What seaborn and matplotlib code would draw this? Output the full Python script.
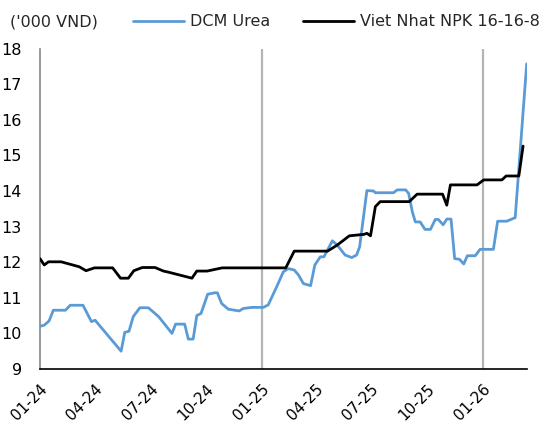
import matplotlib
matplotlib.use("Agg")
import matplotlib.pyplot as plt
import matplotlib.dates as mdates
import pandas as pd
import seaborn as sns

# ---- data ----
series_names = ["DCM Urea", "Viet Nhat NPK 16-16-8"]
unit_label = "('000 VND)"

urea_dates = [
    "2024-01-01", "2024-01-08", "2024-01-16", "2024-01-23", "2024-02-12", "2024-02-20",
    "2024-03-12", "2024-03-26", "2024-04-01", "2024-05-14", "2024-05-20", "2024-05-27",
    "2024-06-03", "2024-06-14", "2024-06-28", "2024-07-15", "2024-08-06", "2024-08-12",
    "2024-08-27", "2024-09-02", "2024-09-10", "2024-09-16", "2024-09-23", "2024-10-04",
    "2024-10-16", "2024-10-20", "2024-10-27", "2024-11-07", "2024-11-25", "2024-12-02",
    "2024-12-16", "2025-01-04", "2025-01-12", "2025-01-26", "2025-02-06", "2025-02-14",
    "2025-02-24", "2025-03-03", "2025-03-11", "2025-03-23", "2025-03-30", "2025-04-08",
    "2025-04-14", "2025-04-28", "2025-05-06", "2025-05-19", "2025-05-30", "2025-06-07",
    "2025-06-12", "2025-06-24", "2025-07-05", "2025-07-08", "2025-08-07", "2025-08-13",
    "2025-08-27", "2025-09-01", "2025-09-07", "2025-09-12", "2025-09-20", "2025-09-28",
    "2025-10-07", "2025-10-15", "2025-10-20", "2025-10-28", "2025-11-03", "2025-11-10",
    "2025-11-16", "2025-11-24", "2025-12-01", "2025-12-07", "2025-12-20", "2025-12-28",
    "2026-01-19", "2026-01-26", "2026-02-10", "2026-02-24", "2026-03-15",
]
urea_values = [
    10.20, 10.23, 10.35, 10.65, 10.65, 10.79,
    10.79, 10.33, 10.37, 9.50, 10.03, 10.06,
    10.47, 10.72, 10.72, 10.47, 10.00, 10.26,
    10.26, 9.84, 9.84, 10.50, 10.56, 11.10,
    11.14, 11.14, 10.84, 10.68, 10.63, 10.70,
    10.73, 10.73, 10.80, 11.31, 11.73, 11.82,
    11.78, 11.64, 11.40, 11.34, 11.92, 12.15,
    12.15, 12.60, 12.48, 12.20, 12.13, 12.20,
    12.43, 14.01, 14.00, 13.95, 13.95, 14.03,
    14.03, 13.93, 13.42, 13.13, 13.13, 12.92,
    12.92, 13.20, 13.20, 13.05, 13.21, 13.21,
    12.10, 12.08, 11.95, 12.18, 12.18, 12.36,
    12.36, 13.15, 13.15, 13.25, 17.57,
]

npk_dates = [
    "2024-01-01", "2024-01-08", "2024-01-15", "2024-02-05", "2024-03-06", "2024-03-17",
    "2024-03-31", "2024-04-30", "2024-05-13", "2024-05-26", "2024-06-04", "2024-06-18",
    "2024-07-09", "2024-07-23", "2024-07-31", "2024-09-08", "2024-09-16", "2024-10-03",
    "2024-10-28", "2025-02-10", "2025-02-24", "2025-04-20", "2025-05-06", "2025-05-26",
    "2025-06-19", "2025-06-24", "2025-06-30", "2025-07-08", "2025-07-16", "2025-09-02",
    "2025-09-15", "2025-10-27", "2025-11-03", "2025-11-09", "2025-12-23", "2026-01-03",
    "2026-02-02", "2026-02-09", "2026-03-02", "2026-03-09",
]
npk_values = [
    12.10, 11.92, 12.01, 12.01, 11.87, 11.76,
    11.84, 11.84, 11.55, 11.55, 11.76, 11.85,
    11.85, 11.75, 11.72, 11.55, 11.75, 11.75,
    11.84, 11.84, 12.31, 12.31, 12.48, 12.74,
    12.78, 12.81, 12.74, 13.56, 13.70, 13.70,
    13.91, 13.91, 13.60, 14.17, 14.17, 14.31,
    14.31, 14.42, 14.42, 15.26,
]

tick_dates = ["2024-01-01", "2024-04-01", "2024-07-01", "2024-10-01", "2025-01-01",
              "2025-04-01", "2025-07-01", "2025-10-01", "2026-01-01"]
divider_dates = ["2025-01-01", "2026-01-01"]
y_ticks = [9, 10, 11, 12, 13, 14, 15, 16, 17, 18]

# ---- styling ----
sns.set_style("white")
plt.rcParams["font.family"] = ["DejaVu Sans"]
FS = 11.5

urea = pd.DataFrame({"date": pd.to_datetime(urea_dates), "price": urea_values})
npk = pd.DataFrame({"date": pd.to_datetime(npk_dates), "price": npk_values})

fig = plt.figure(figsize=(5.5, 4.3), dpi=100)
ax = fig.add_axes([40 / 550, 1 - 369 / 430, (526.7 - 40) / 550, (369 - 48.5) / 430])

for d in divider_dates:
    ax.axvline(pd.Timestamp(d), color="#b4b4b4", lw=1.6, zorder=1)

sns.lineplot(data=urea, x="date", y="price", ax=ax, color="#5b9bd5", lw=2.0,
             label=series_names[0], zorder=3)
sns.lineplot(data=npk, x="date", y="price", ax=ax, color="black", lw=2.0,
             label=series_names[1], zorder=4)

ax.set_xlim(pd.Timestamp("2024-01-01"), pd.Timestamp("2026-03-15"))
ax.set_ylim(9, 18)
ax.set_yticks(y_ticks)
ax.set_xticks(pd.to_datetime(tick_dates))
ax.xaxis.set_major_formatter(mdates.DateFormatter("%m-%y"))
ax.set_xlabel("")
ax.set_ylabel("")

for s in ["top", "right"]:
    ax.spines[s].set_visible(False)
ax.spines["left"].set_color("#868686")
ax.spines["left"].set_linewidth(1.2)
ax.spines["bottom"].set_color("black")
ax.spines["bottom"].set_linewidth(1.2)

ax.tick_params(axis="y", direction="in", length=5, width=1, color="#868686",
               pad=13, labelsize=FS, labelcolor="black")
ax.tick_params(axis="x", direction="in", length=5, width=1, color="#868686",
               pad=9, labelsize=11, labelcolor="black")
for lab in ax.get_xticklabels():
    lab.set_rotation(45)
    lab.set_ha("right")
    lab.set_va("top")
    lab.set_rotation_mode("anchor")

handles, labels = ax.get_legend_handles_labels()
ax.get_legend().remove()
fig.legend(handles, labels, loc="center left", bbox_to_anchor=(133 / 550, 1 - 22 / 430),
           ncol=2, frameon=False, fontsize=FS, handlelength=3.2, handletextpad=0.4,
           columnspacing=2.0, borderpad=0, borderaxespad=0)
fig.text(10 / 550, 1 - 22 / 430, unit_label, ha="left", va="center", fontsize=FS)

fig.savefig("out.png", dpi=100)
